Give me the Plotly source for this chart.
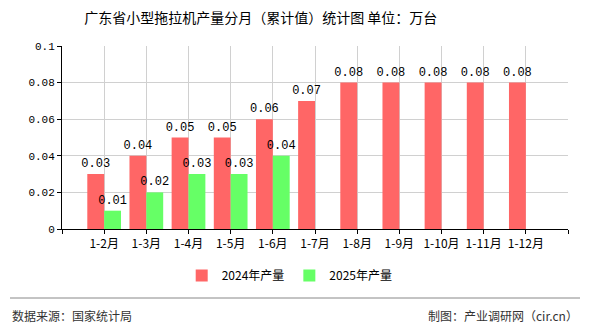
import plotly.graph_objects as go

categories = ["1-2月", "1-3月", "1-4月", "1-5月", "1-6月", "1-7月", "1-8月", "1-9月", "1-10月", "1-11月", "1-12月"]
values_2024 = [0.03, 0.04, 0.05, 0.05, 0.06, 0.07, 0.08, 0.08, 0.08, 0.08, 0.08]
values_2025 = [0.01, 0.02, 0.03, 0.03, 0.04]
y_ticks = [0, 0.02, 0.04, 0.06, 0.08, 0.1]
y_ticktext = ["0", "0.02", "0.04", "0.06", "0.08", "0.1"]

idx = list(range(len(categories)))
num_font = "Liberation Mono, DejaVu Sans Mono, monospace"
cjk_font = "Noto Sans CJK SC, sans-serif"

fig = go.Figure()
fig.add_trace(go.Bar(
    name="2024年产量", x=idx, y=values_2024,
    marker=dict(color="#FF6666", line=dict(width=0)),
    text=[f"{v:g}" for v in values_2024], textposition="outside",
    textfont=dict(family=num_font, size=12, color="#000"),
    constraintext="none", cliponaxis=False,
))
fig.add_trace(go.Bar(
    name="2025年产量", x=idx[:len(values_2025)], y=values_2025,
    marker=dict(color="#66FF66", line=dict(width=0)),
    text=[f"{v:g}" for v in values_2025], textposition="outside",
    textfont=dict(family=num_font, size=12, color="#000"),
    constraintext="none", cliponaxis=False,
))

tickvals = [-1] + idx + [len(categories)]
ticktext = [""] + categories + [""]

fig.update_layout(
    width=590, height=330,
    margin=dict(l=62, r=22, t=46, b=101),
    paper_bgcolor="white", plot_bgcolor="white",
    barmode="group", bargap=0.2, bargroupgap=0,
    showlegend=True,
    legend=dict(orientation="h", x=0.45, xanchor="center", y=-0.175, yanchor="top",
                font=dict(family=cjk_font, size=12, color="#000"),
                itemwidth=30, tracegroupgap=0),
    title=dict(text="广东省小型拖拉机产量分月（累计值）统计图 单位：万台",
               x=0.442, xanchor="center", xref="container", y=0.945, yanchor="middle",
               yref="container",
               font=dict(family=cjk_font, size=14, color="#000")),
    xaxis=dict(
        range=[-1, len(categories)], tickmode="array", tickvals=tickvals, ticktext=ticktext,
        showgrid=True, gridcolor="#D0D0D0", gridwidth=1,
        showline=True, linecolor="#000", linewidth=1,
        ticks="outside", ticklen=4, tickcolor="#000",
        tickfont=dict(family=cjk_font, size=12, color="#000"),
        zeroline=False,
    ),
    yaxis=dict(
        range=[0, 0.1], tickmode="array", tickvals=y_ticks, ticktext=y_ticktext,
        showgrid=True, gridcolor="#D0D0D0", gridwidth=1,
        showline=True, linecolor="#000", linewidth=1,
        ticks="outside", ticklen=4, tickcolor="#000",
        tickfont=dict(family=num_font, size=11, color="#000"),
        zeroline=False,
    ),
    shapes=[
        dict(type="line", xref="paper", yref="paper", x0=-52/506, x1=(590-10-62)/506,
             y0=-(298-229)/183, y1=-(298-229)/183, line=dict(color="#888", width=1)),
    ],
    annotations=[
        dict(text="数据来源：国家统计局", xref="paper", yref="paper",
             x=-52/506, xanchor="left", y=-(315-229)/183, yanchor="middle", showarrow=False,
             font=dict(family=cjk_font, size=12, color="#333")),
        dict(text="制图：产业调研网（cir.cn）", xref="paper", yref="paper",
             x=(580-62)/506, xanchor="right", y=-(315-229)/183, yanchor="middle", showarrow=False,
             font=dict(family=cjk_font, size=12, color="#333")),
    ],
)

fig.write_html("out.html")
